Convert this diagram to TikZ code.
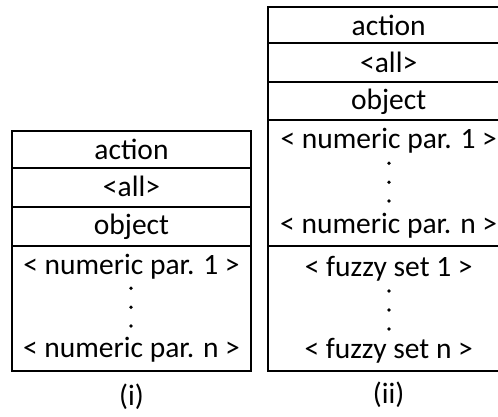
\documentclass[tikz,border=0pt]{standalone}
\usepackage{fontspec}
\setmainfont{Carlito}
\begin{document}
\begin{tikzpicture}[x=1pt,y=-1pt,
  frame/.style={line width=2pt},
  txt/.style={anchor=base,inner sep=0pt,font=\fontsize{29.5}{32}\selectfont},
  vdot/.style={circle,fill=black,inner sep=0pt,minimum size=3.8pt}]
\useasboundingbox (0,0) rectangle (498,417);

% ---- structure (i) ----
\draw[frame] (12,131.5) rectangle (250.5,370.5);
\draw[frame] (12,168) -- (250.5,168);
\draw[frame] (12,207) -- (250.5,207);
\draw[frame] (12,245.5) -- (250.5,245.5);

\node[txt] (la) at (131.5,160) {action};
\node[txt] (lb) at (131.5,196.7) {<all>};
\node[txt] (lc) at (131.5,234.5) {object};
\node[txt] (ln1) at (131.5,274) {< numeric par. 1 >};
\node[vdot] (ld1) at (131,288.3) {};
\node[vdot] (ld2) at (131,307.3) {};
\node[vdot] (ld3) at (131,326) {};
\node[txt] (lnn) at (131.5,357.3) {< numeric par. n >};
\node[txt] (lcap) at (131.5,405) {(i)};

% ---- structure (ii) ----
\draw[frame] (268.3,7.3) rectangle (509,370.7);
\draw[frame] (268.3,43.3) -- (509,43.3);
\draw[frame] (268.3,81.7) -- (509,81.7);
\draw[frame] (268.3,120) -- (509,120);
\draw[frame] (268.3,246) -- (509,246);

\node[txt] (ra) at (388.7,35.5) {action};
\node[txt] (rb) at (388.7,72.7) {<all>};
\node[txt] (rc) at (388.7,110) {object};
\node[txt] (rn1) at (388.7,148.3) {< numeric par. 1 >};
\node[vdot] (rd1) at (389,163.3) {};
\node[vdot] (rd2) at (389,182.3) {};
\node[vdot] (rd3) at (389,201) {};
\node[txt] (rnn) at (388.7,233.3) {< numeric par. n >};
\node[txt] (rf1) at (388.7,276.7) {< fuzzy set 1 >};
\node[vdot] (rd4) at (389,291) {};
\node[vdot] (rd5) at (389,310) {};
\node[vdot] (rd6) at (389,329) {};
\node[txt] (rfn) at (388.7,358.3) {< fuzzy set n >};
\node[txt] (rcap) at (388.7,403.5) {(ii)};
\end{tikzpicture}
\end{document}
